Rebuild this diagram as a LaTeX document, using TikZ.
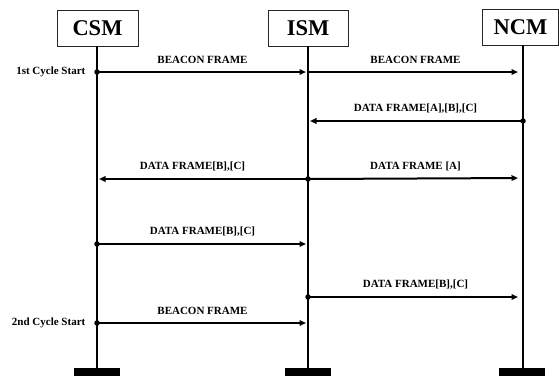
\documentclass[tikz,border=0pt]{standalone}
\usepackage{fontspec}
\setmainfont{Liberation Serif}
\usetikzlibrary{arrows.meta}
\begin{document}
\begin{tikzpicture}[x=1bp,y=-1bp,
  entity/.style={draw=black!85,line width=0.9bp,minimum height=36bp,inner sep=0pt,font=\fontsize{22.5bp}{24bp}\bfseries},
  lifeline/.style={line width=2.8bp},
  bar/.style={fill=black,draw=none,minimum width=46bp,minimum height=8bp,inner sep=0pt},
  msg/.style={line width=2bp,-{Triangle[length=6.5bp,width=5.5bp]},shorten >=2bp},
  dotstart/.style={fill=black,circle,inner sep=0pt,minimum size=5.5bp},
  lbl/.style={font=\fontsize{11bp}{12bp}\bfseries,inner sep=0pt},
  side/.style={font=\fontsize{11bp}{12bp}\bfseries,inner sep=0pt,anchor=east}]
\useasboundingbox (0,0) rectangle (559,376);
% entity boxes
\node[entity,minimum width=81bp] (csm) at (97.5,28) {CSM};
\node[entity,minimum width=80bp] (ism) at (308,28) {ISM};
\node[entity,minimum width=76bp] (ncm) at (520.5,27.5) {NCM};
% bottom bars
\node[bar] (csmbar) at (97,372) {};
\node[bar] (ismbar) at (308,372) {};
\node[bar] (ncmbar) at (522,372) {};
% lifelines
\coordinate (csmtop) at (97,46);
\coordinate (ismtop) at (308,46);
\coordinate (ncmtop) at (523,45);
\draw[lifeline] (csmtop) -- (csmbar.north);
\draw[lifeline] (ismtop) -- (ismbar.north);
\draw[lifeline] (ncmtop) -- (ncmbar.north -| ncmtop);
% message points
\coordinate (c1) at (97,72);   \coordinate (i1) at (308,72);  \coordinate (n1) at (523,72);
\coordinate (n2) at (523,121); \coordinate (i2) at (308,121);
\coordinate (i3) at (308,179); \coordinate (c3) at (97,179);  \coordinate (n3) at (523,178);
\coordinate (c4) at (97,244);  \coordinate (i4) at (308,244);
\coordinate (i5) at (308,297); \coordinate (n5) at (523,297);
\coordinate (c6) at (97,323);  \coordinate (i6) at (308,323);
% messages
\draw[msg] (c1) -- node[lbl,above=7bp]{BEACON FRAME} (i1);
\draw[msg,shorten >=5bp] (i1) -- node[lbl,above=7bp]{BEACON FRAME} (n1);
\draw[msg] (n2) -- node[lbl,above=7bp]{DATA FRAME[A],[B],[C]} (i2);
\draw[msg] (i3) -- node[lbl,above=7bp,xshift=-10bp]{DATA FRAME[B],[C]} (c3);
\draw[msg,shorten >=5bp] (i3) -- node[lbl,above=7bp]{DATA FRAME [A]} (n3);
\draw[msg] (c4) -- node[lbl,above=7bp]{DATA FRAME[B],[C]} (i4);
\draw[msg,shorten >=5bp] (i5) -- node[lbl,above=7bp]{DATA FRAME[B],[C]} (n5);
\draw[msg] (c6) -- node[lbl,above=7bp]{BEACON FRAME} (i6);
% start dots
\node[dotstart] (d1) at (c1) {};
\node[dotstart] (d2) at (n2) {};
\node[dotstart] (d3) at (i3) {};
\node[dotstart] (d4) at (c4) {};
\node[dotstart] (d5) at (i5) {};
\node[dotstart] (d6) at (c6) {};
% side labels
\node[side] (s1) at (85.5,72) {1st Cycle Start};
\node[side] (s2) at (85.5,323) {2nd Cycle Start};
\end{tikzpicture}
\end{document}
